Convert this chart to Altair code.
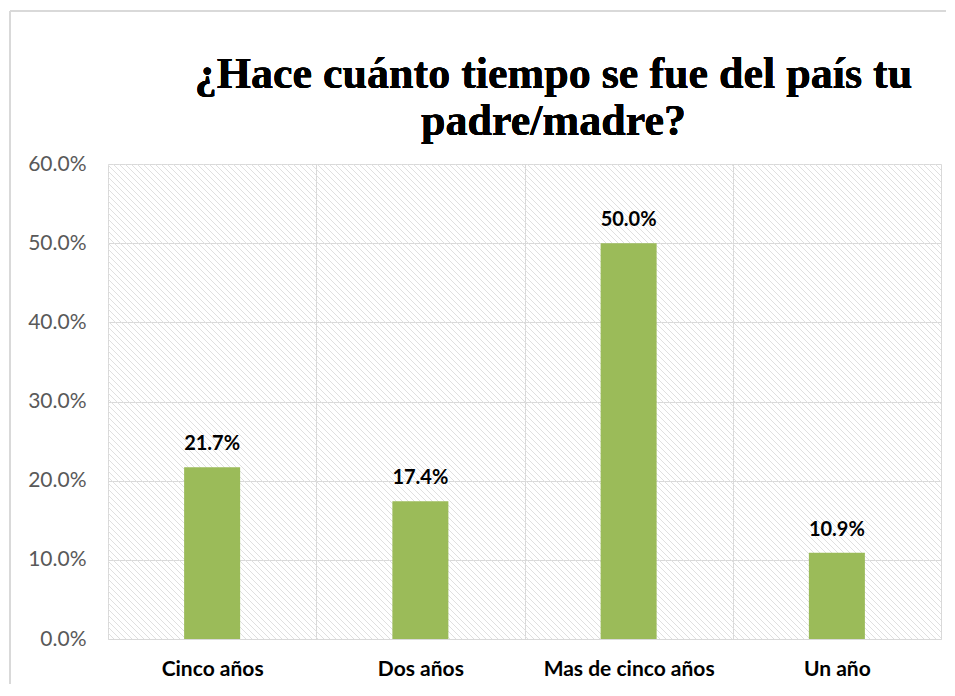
import altair as alt
import pandas as pd

categories = ["Cinco años", "Dos años", "Mas de cinco años", "Un año"]
values = [0.217, 0.174, 0.500, 0.109]
y_ticks = [0, 0.1, 0.2, 0.3, 0.4, 0.5, 0.6]
title_lines = ["¿Hace cuánto tiempo se fue del país tu", "padre/madre?"]

W, H = 833, 475
df = pd.DataFrame({"cat": categories, "val": values})

hatch = alt.Chart(alt.sequence(start=-H, stop=W, step=6, as_="k")).transform_calculate(
    x1="datum.k", x2="datum.k + %d" % H, y1="0", y2=str(H)
).mark_rule(clip=True, stroke="#e0e0e0", strokeWidth=1).encode(
    x=alt.X("x1:Q", scale=None, axis=None),
    x2="x2:Q",
    y=alt.Y("y1:Q", scale=None, axis=None),
    y2="y2:Q",
)

xscale = alt.Scale(domain=categories, paddingInner=0, paddingOuter=0)
yscale = alt.Scale(domain=[0, 0.6])

bars = alt.Chart(df).mark_bar(color="#9BBB59", size=56).encode(
    x=alt.X("cat:N", sort=categories, scale=xscale, title=None,
            axis=alt.Axis(labelAngle=0, labelFont="Lato", labelFontWeight="bold",
                          labelFontSize=21, labelColor="#000000", labelPadding=19,
                          ticks=False, domain=True, domainColor="#d9d9d9",
                          grid=True, gridColor="#d9d9d9", tickBand="extent")),
    y=alt.Y("val:Q", scale=yscale, title=None,
            axis=alt.Axis(values=y_ticks, format=".1%", labelFont="Lato",
                          labelFontSize=21, labelColor="#595959", labelPadding=22,
                          ticks=False, domain=False, grid=True, gridColor="#d9d9d9")),
)

labels = alt.Chart(df).mark_text(
    font="Lato", fontWeight="bold", fontSize=20, color="#000000",
    baseline="alphabetic", dy=-17
).encode(
    x=alt.X("cat:N", sort=categories, scale=xscale),
    y=alt.Y("val:Q", scale=yscale),
    text=alt.Text("val:Q", format=".1%"),
)

title1 = alt.Chart(df).mark_text(
    text=title_lines[0], font="Liberation Serif", fontWeight="bold", fontSize=44,
    color="#000000", align="center", baseline="alphabetic", clip=False
).encode(x=alt.value(W / 2 + 29), y=alt.value(-76))
title2 = alt.Chart(df).mark_text(
    text=title_lines[1], font="Liberation Serif", fontWeight="bold", fontSize=44,
    color="#000000", align="center", baseline="alphabetic", clip=False
).encode(x=alt.value(W / 2 + 29), y=alt.value(-29))

border_top = alt.Chart(df).mark_rule(color="#d9d9d9", strokeWidth=2, clip=False).encode(
    x=alt.value(-98), x2=alt.value(W + 5), y=alt.value(-153)
)
border_left = alt.Chart(df).mark_rule(color="#d9d9d9", strokeWidth=2, clip=False).encode(
    x=alt.value(-98), y=alt.value(-153), y2=alt.value(H + 45)
)

main = alt.layer(bars, labels)
chart = alt.layer(hatch, main, border_top, border_left, title1, title2).resolve_scale(
    x="independent", y="independent"
).properties(
    width=W, height=H,
    autosize=alt.AutoSizeParams(type="none"),
    padding={"left": 100, "top": 156, "right": 5, "bottom": 45},
).configure_view(stroke=None)

chart.save("out.html", embed_options={"renderer": "svg", "actions": False})
